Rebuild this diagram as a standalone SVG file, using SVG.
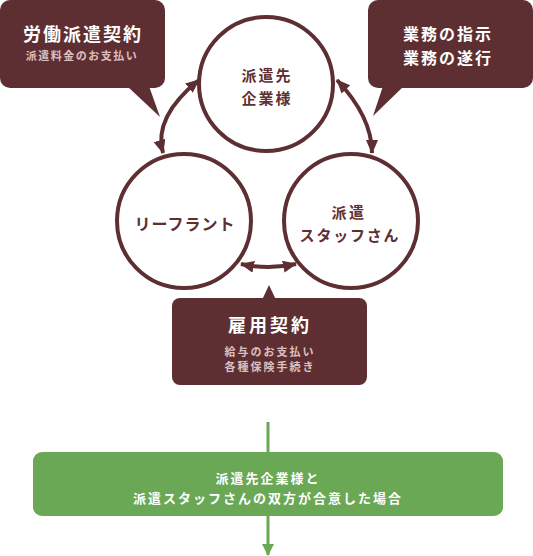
<svg xmlns="http://www.w3.org/2000/svg" width="533" height="556" viewBox="0 0 533 556">
<style>
.t{font-family:"Noto Sans CJK JP","Noto Sans",sans-serif;font-weight:bold;text-anchor:middle;dominant-baseline:central}
.w{fill:#ffffff}
.p{fill:#dcc0c1}
.b{fill:#5e2f32}
.circ{fill:#ffffff;stroke:#5e2f32;stroke-width:4}
.box{fill:#5e2f32}
.con{fill:none;stroke:#5e2f32;stroke-width:4}
.g{fill:none;stroke:#6aa855;stroke-width:3}
</style>
<defs>
<marker id="ah" viewBox="0 0 14 12" refX="13" refY="6" markerWidth="14" markerHeight="12" markerUnits="userSpaceOnUse" orient="auto-start-reverse">
<path d="M0,0 L14,6 L0,12 z" fill="#5e2f32"/>
</marker>
<marker id="gh" viewBox="0 0 12 12" refX="11" refY="6" markerWidth="12" markerHeight="12" markerUnits="userSpaceOnUse" orient="auto">
<path d="M0,0 L12,6 L0,12 z" fill="#6aa855"/>
</marker>
</defs>
<g id="bubble-left">
<rect class="box" x="0" y="0" width="165" height="88" rx="10"/>
<path class="box" d="M127,86 L149,86 L160,117 z"/>
<text class="t w" x="83" y="33" font-size="18" letter-spacing="2">労働派遣契約</text>
<text class="t p" x="82" y="55" font-size="11" letter-spacing="1.5">派遣料金のお支払い</text>
</g>
<g id="bubble-right">
<rect class="box" x="368" y="0" width="165" height="88" rx="10"/>
<path class="box" d="M383,86 L404,86 L373,116 z"/>
<text class="t w" x="448" y="33" font-size="16" letter-spacing="2">業務の指示</text>
<text class="t w" x="448" y="57" font-size="16" letter-spacing="2">業務の遂行</text>
</g>
<g id="node-client">
<circle class="circ" cx="266" cy="84" r="67"/>
<text class="t b" x="267" y="74" font-size="15" letter-spacing="2">派遣先</text>
<text class="t b" x="267" y="97" font-size="15" letter-spacing="2">企業様</text>
</g>
<g id="node-refrant">
<circle class="circ" cx="184" cy="221" r="67"/>
<text class="t b" x="185" y="223" font-size="16" letter-spacing="1">リーフラント</text>
</g>
<g id="node-staff">
<circle class="circ" cx="351" cy="221" r="67"/>
<text class="t b" x="349" y="211" font-size="15" letter-spacing="2.5">派遣</text>
<text class="t b" x="350" y="234" font-size="15" letter-spacing="1.8">スタッフさん</text>
</g>
<g id="bubble-bottom">
<rect class="box" x="172" y="298" width="195" height="87" rx="8"/>
<path class="box" d="M262,300 L269,285 L276,300 z"/>
<text class="t w" x="270" y="324" font-size="18" letter-spacing="3">雇用契約</text>
<text class="t p" x="270" y="351" font-size="11" letter-spacing="2">給与のお支払い</text>
<text class="t p" x="270" y="366" font-size="11" letter-spacing="2">各種保険手続き</text>
</g>
<g id="connectors">
<path class="con" d="M163,153 Q153,117 199,80" marker-start="url(#ah)" marker-end="url(#ah)"/>
<path class="con" d="M337,80 Q372,117 372,153" marker-start="url(#ah)" marker-end="url(#ah)"/>
<path class="con" d="M241,264 Q268,270 296,264" marker-start="url(#ah)" marker-end="url(#ah)"/>
<line class="g" x1="268" y1="422" x2="268" y2="453"/>
<line class="g" x1="268" y1="515" x2="268" y2="555" marker-end="url(#gh)"/>
</g>
<g id="result">
<rect x="33" y="452" width="470" height="64" rx="9" fill="#6aa855"/>
<text class="t w" x="268" y="477" font-size="13" letter-spacing="2">派遣先企業様と</text>
<text class="t w" x="268" y="497" font-size="13" letter-spacing="2">派遣スタッフさんの双方が合意した場合</text>
</g>
</svg>
